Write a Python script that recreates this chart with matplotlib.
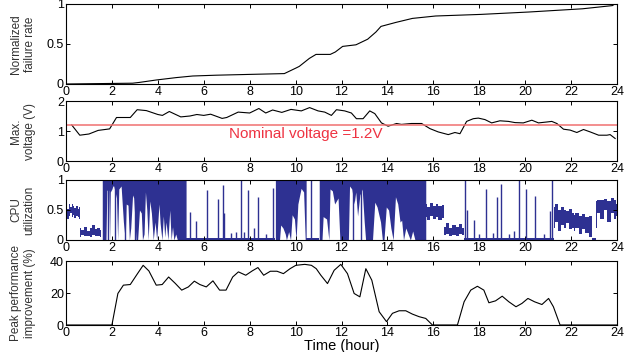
import numpy as np
import matplotlib
matplotlib.use('Agg')
import matplotlib.pyplot as plt

plt.rcParams['font.family'] = ['Liberation Sans', 'DejaVu Sans']

# ---- failure rate ----
fail_t = [0, 2.9, 3.2, 3.93, 4.8, 5.52, 6.54, 7.99, 9.51, 10.02, 10.16, 10.6, 10.89, 11.51, 11.73,
          12.05, 12.63, 13.14, 13.5, 13.72, 14.37, 15.09, 16.1, 18.07, 20.17, 22.49, 23.8, 23.9]
fail_v = [0, 0.01, 0.02, 0.05, 0.08, 0.10, 0.11, 0.12, 0.13, 0.2, 0.22, 0.32, 0.37, 0.37, 0.40,
          0.47, 0.49, 0.56, 0.65, 0.72, 0.77, 0.82, 0.85, 0.87, 0.90, 0.94, 0.98, 1.0]

# ---- max voltage ----
volt_t = [0.25, 0.6, 1.0, 1.4, 1.9, 2.2, 2.8, 3.1, 3.5, 4.0, 4.2, 4.5, 5.0, 5.4, 5.7, 6.0, 6.3, 6.8, 7.0,
          7.5, 8.0, 8.4, 8.7, 9.0, 9.4, 9.8, 10.25, 10.61, 10.98, 11.27, 11.56, 11.78, 12.14, 12.43,
          12.65, 12.94, 13.23, 13.45, 13.74, 14.03, 14.4, 14.61, 15.05, 15.49, 15.85, 16.21, 16.65,
          16.94, 17.16, 17.45, 17.74, 17.96, 18.25, 18.54, 18.9, 19.27, 19.56, 19.92, 20.29, 20.58,
          20.94, 21.16, 21.38, 21.67, 21.96, 22.25, 22.54, 22.83, 23.2, 23.56, 23.7, 23.92]
volt_v = [1.2, 0.86, 0.9, 1.02, 1.07, 1.45, 1.45, 1.71, 1.68, 1.55, 1.52, 1.65, 1.47, 1.5, 1.55, 1.52,
          1.56, 1.42, 1.45, 1.63, 1.6, 1.75, 1.6, 1.7, 1.62, 1.72, 1.67, 1.78, 1.67, 1.63, 1.52, 1.71,
          1.67, 1.6, 1.41, 1.41, 1.67, 1.58, 1.27, 1.16, 1.25, 1.22, 1.25, 1.25, 1.08, 0.97, 0.88,
          0.95, 0.91, 1.32, 1.41, 1.43, 1.38, 1.27, 1.34, 1.32, 1.28, 1.27, 1.36, 1.27, 1.3, 1.32,
          1.25, 1.06, 1.03, 0.95, 1.05, 0.97, 0.86, 0.86, 0.88, 0.75]
nominal_v = 1.2

# ---- CPU utilization ----
# steady noisy bands (time, lower edge, upper edge)
band1_t = [0, 0.08, 0.15, 0.22, 0.27, 0.3, 0.33, 0.4, 0.48, 0.55, 0.6]
band1_lo = [0.42, 0.35, 0.4, 0.45, 0.38, 0.4, 0.42, 0.36, 0.4, 0.38, 0.35]
band1_hi = [0.58, 0.52, 0.6, 0.55, 0.6, 0.8, 0.57, 0.53, 0.56, 0.52, 0.55]
band2_t = [0.6, 0.7, 0.85, 1.0, 1.1, 1.2, 1.3, 1.4, 1.54]
band2_lo = [0.05, 0.08, 0.06, 0.07, 0.05, 0.08, 0.06, 0.07, 0.05]
band2_hi = [0.2, 0.17, 0.22, 0.15, 0.2, 0.25, 0.18, 0.2, 0.16]
band3_t = [15.67, 15.8, 15.95, 16.05, 16.15, 16.3, 16.47]
band3_lo = [0.38, 0.33, 0.4, 0.35, 0.38, 0.33, 0.36]
band3_hi = [0.6, 0.55, 0.62, 0.56, 0.6, 0.57, 0.58]
band4_t = [16.47, 16.6, 16.75, 16.9, 17.05, 17.2, 17.33]
band4_lo = [0.08, 0.1, 0.07, 0.09, 0.07, 0.1, 0.08]
band4_hi = [0.22, 0.28, 0.2, 0.25, 0.22, 0.27, 0.2]
band5_t = [21.25, 21.35, 21.5, 21.6, 21.75, 21.85, 22.0, 22.12]
band5_lo = [0.2, 0.3, 0.15, 0.25, 0.2, 0.28, 0.18, 0.2]
band5_hi = [0.55, 0.6, 0.5, 0.55, 0.5, 0.48, 0.52, 0.45]
band6_t = [22.12, 22.25, 22.4, 22.55, 22.7, 22.9]
band6_lo = [0.15, 0.2, 0.1, 0.18, 0.12, 0.05]
band6_hi = [0.42, 0.45, 0.4, 0.43, 0.38, 0.4]
band7_t = [23.1, 23.2, 23.35, 23.5, 23.65, 23.8, 23.9, 24.0]
band7_lo = [0.2, 0.45, 0.35, 0.5, 0.3, 0.45, 0.35, 0.4]
band7_hi = [0.65, 0.67, 0.66, 0.68, 0.65, 0.7, 0.66, 0.6]

# busy periods: lower envelope under a signal saturated at 1
busyA_t = [1.58, 1.74, 1.78, 1.86, 1.9, 1.93, 2.0, 2.04, 2.08, 2.2, 2.25, 2.3, 2.4, 2.5, 2.58, 2.62,
           2.7, 2.76, 2.82, 2.9, 2.95, 3.05, 3.12, 3.2, 3.28, 3.33, 3.4, 3.46, 3.52, 3.58, 3.65, 3.72,
           3.8, 3.88, 3.95, 4.05, 4.1, 4.18, 4.24, 4.3, 4.36, 4.44, 4.52, 4.58, 4.64, 4.7, 4.78, 4.85,
           5.23]
busyA_lo = [0, 0, 0.83, 0.83, 0, 0.8, 0.85, 0.9, 0.9, 0.7, 0, 0.85, 0.9, 0.3, 0, 0.6, 0.58, 0, 0.2,
            0.75, 0.7, 0, 0, 0.5, 0.45, 0, 0.1, 0.8, 0.5, 0, 0.65, 0.45, 0, 0.3, 0, 0.6, 0.28, 0, 0.4,
            0.05, 0.3, 0, 0.5, 0, 0.22, 0, 0.1, 0, 0]
busyB_t = [9.12, 9.3, 9.35, 9.45, 9.55, 9.6, 9.7, 9.78, 9.85, 9.95, 10.02, 10.1, 10.18, 10.24, 10.35,
           10.42, 10.46]
busyB_lo = [0, 0, 0.25, 0.2, 0.1, 0, 0.14, 0, 0.42, 0.35, 0, 0.6, 0.75, 0.86, 0.8, 0, 0]
busyC_t = [11.03, 11.15, 11.2, 11.35, 11.45, 11.5, 11.6, 11.7, 11.85, 11.93, 12.0, 12.3, 12.35, 12.45,
           12.55, 12.62, 12.7, 12.8, 12.9, 12.99, 13.05, 13.2, 13.35, 13.45, 13.55, 13.7, 13.78, 13.85,
           13.95, 14.05, 14.15, 14.25, 14.35, 14.45, 14.55, 14.62, 14.7, 14.8, 14.9, 15.0, 15.1, 15.2,
           15.67]
busyC_lo = [0, 0, 0.39, 0.35, 0, 0.85, 0.82, 0.6, 0.7, 0, 0, 0, 0.9, 0.85, 0.6, 0.8, 0.4, 0.75, 0.85,
            0.3, 0, 0, 0, 0.63, 0.55, 0.3, 0, 0, 0.55, 0.5, 0.2, 0, 0.72, 0.6, 0.3, 0.33, 0, 0.2, 0.1,
            0, 0.15, 0, 0]

# isolated spikes
spike_t = [1.85, 2.15, 2.55, 3.0, 5.38, 5.67, 6.15, 6.64, 6.83, 6.9, 7.19, 7.41, 7.63, 7.77, 7.94,
           8.2, 8.38, 8.71, 9.0, 10.67, 12.5, 12.85, 17.38, 17.48, 17.77, 18.0, 18.28, 18.6, 18.78,
           18.93, 19.3, 19.5, 19.73, 20.02, 20.45, 20.8, 21.07, 21.17]
spike_v = [1.0, 1.0, 1.0, 1.0, 0.47, 0.31, 0.83, 0.69, 0.92, 0.45, 0.12, 0.14, 1.0, 0.14, 0.83, 0.2,
           0.72, 0.1, 0.86, 1.0, 1.0, 1.0, 1.0, 0.5, 0.33, 0.1, 0.85, 0.12, 0.72, 0.94, 0.1, 0.15, 1.0,
           0.85, 0.74, 0.1, 0.49, 1.0]
idle_t0 = [5.23, 10.46, 17.33, 22.9]
idle_t1 = [9.12, 11.03, 21.25, 23.1]

# ---- peak performance improvement ----
perf_t = [0, 2.0, 2.26, 2.5, 2.8, 3.11, 3.36, 3.61, 3.93, 4.19, 4.47, 4.76, 5.04, 5.33, 5.59, 5.83,
          6.11, 6.4, 6.69, 6.97, 7.26, 7.51, 7.83, 8.11, 8.36, 8.61, 8.9, 9.19, 9.47, 9.76, 10.01,
          10.4, 10.69, 10.9, 11.1, 11.39, 11.68, 11.97, 12.26, 12.55, 12.8, 13.06, 13.32, 13.64,
          13.96, 14.22, 14.51, 14.8, 15.09, 15.38, 15.67, 15.96, 17.05, 17.34, 17.63, 17.92, 18.2,
          18.42, 18.71, 19.0, 19.29, 19.6, 19.86, 20.12, 20.41, 20.73, 21.02, 21.23, 21.52, 24]
perf_v = [0, 0, 19.7, 24.9, 25.3, 32, 37.3, 33.8, 24.9, 25.3, 30, 26, 21.8, 23.8, 27.4, 25.3, 23.8,
          27.6, 21.8, 21.8, 30, 33.2, 31.1, 33.8, 35.9, 31.1, 33.6, 33.6, 32.1, 35.2, 37.3, 37.9,
          37.3, 35.2, 31.1, 25.9, 34.2, 37.9, 32.1, 19.7, 17.6, 35.2, 28, 8.3, 2.1, 7.3, 8.9, 8.9,
          6.8, 5.2, 4.1, 0, 0, 14.5, 21.8, 24.2, 21.8, 13.9, 15.1, 18, 14.5, 11.4, 13.5, 16.6, 14.5,
          12.8, 16.6, 11.4, 0, 0]

xticks = np.arange(0, 25, 2)
blue = '#2e3192'

fig = plt.figure(figsize=(6.25, 3.52), dpi=100)
left, width = 66 / 625, 551 / 625
boxes = [(4, 84), (101, 161), (180, 240), (261, 325)]
axes = []
for top, bot in boxes:
    ax = fig.add_axes([left, 1 - bot / 352, width, (bot - top) / 352])
    ax.set_xlim(0, 24)
    ax.set_xticks(xticks)
    ax.tick_params(direction='in', top=True, right=True, labelsize=9, length=3, width=0.7, pad=1.5)
    for s in ax.spines.values():
        s.set_linewidth(0.8)
    axes.append(ax)

ax1, ax2, ax3, ax4 = axes

ax1.plot(fail_t, fail_v, color='black', lw=0.8)
ax1.set_ylim(0, 1)
ax1.set_yticks([0, 0.5, 1])
ax1.set_yticklabels(['0', '0.5', '1'])
ax1.set_ylabel('Normalized\nfailure rate', fontsize=8.5, color='#333333')

ax2.plot(volt_t, volt_v, color='black', lw=0.8)
ax2.axhline(nominal_v, color='#f07070', lw=1.1)
ax2.text(7.1, nominal_v - 0.08, 'Nominal voltage =1.2V', color='#ee3342', fontsize=11, va='top')
ax2.set_ylim(0, 2)
ax2.set_yticks([0, 1, 2])
ax2.set_ylabel('Max.\nvoltage (V)', fontsize=8.5, color='#333333')

bands = [(band1_t, band1_lo, band1_hi), (band2_t, band2_lo, band2_hi), (band3_t, band3_lo, band3_hi),
         (band4_t, band4_lo, band4_hi), (band5_t, band5_lo, band5_hi), (band6_t, band6_lo, band6_hi),
         (band7_t, band7_lo, band7_hi)]
for bt, lo, hi in bands:
    ax3.fill_between(bt, lo, hi, step='mid', color=blue, lw=0)
for bt, blo in [(busyA_t, busyA_lo), (busyB_t, busyB_lo), (busyC_t, busyC_lo)]:
    ax3.fill_between(bt, blo, 1, color=blue, lw=0)
for t0, t1 in zip(idle_t0, idle_t1):
    ax3.fill_between([t0, t1], 0, 0.04, color=blue, lw=0)
ax3.vlines(spike_t, 0, spike_v, color=blue, lw=1.0)
ax3.set_ylim(0, 1)
ax3.set_yticks([0, 0.5, 1])
ax3.set_yticklabels(['0', '0.5', '1'])
ax3.set_ylabel('CPU\nutilization', fontsize=8.5, color='#333333')

ax4.plot(perf_t, perf_v, color='black', lw=0.8)
ax4.set_ylim(0, 40)
ax4.set_yticks([0, 20, 40])
ax4.set_ylabel('Peak performance\nimprovement (%)', fontsize=8.5, color='#333333')
ax4.set_xlabel('Time (hour)', fontsize=10.5, labelpad=0)

for ax in axes:
    ax.yaxis.set_label_coords(-0.055, 0.5)

fig.savefig('out.png', dpi=100)
